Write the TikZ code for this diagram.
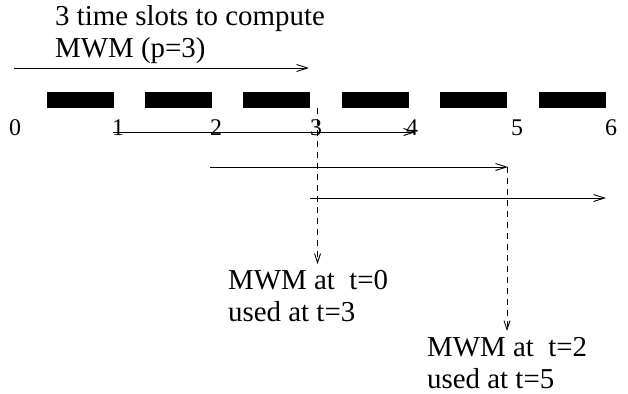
\documentclass[tikz,border=0pt]{standalone}
\usepackage{fontspec}
\setmainfont{Liberation Serif}
\usetikzlibrary{arrows.meta}
\begin{document}
\begin{tikzpicture}[x=1bp,y=-1bp,
  lbl/.style={inner sep=0pt,anchor=base west,font=\fontsize{29}{32}\selectfont,align=left},
  tick/.style={inner sep=0pt,anchor=base,font=\fontsize{24}{28}\selectfont},
  slot/.style={fill=black,draw=none,minimum width=67bp,minimum height=16bp,inner sep=0pt},
  span/.style={line width=0.9bp,-{Straight Barb[length=11bp,width=7bp,line width=0.9bp]}},
  dropline/.style={line width=0.9bp,dash pattern=on 6bp off 5bp,-{Straight Barb[length=9bp,width=6bp,line width=0.9bp]}}]
\useasboundingbox (0,0) rectangle (628,393);

% caption over the first computation window (anchored at its last line)
\node[lbl] (cap) at (55,57) {3 time slots to compute\\MWM (p=3)};

% time slots
\foreach \i/\x in {1/80,2/178.5,3/276.5,4/375.5,5/473.5,6/572}
  \node[slot] (b\i) at (\x,100) {};

% tick labels
\foreach \i/\x in {0/15,1/118,2/216,3/316,4/412,5/517,6/611}
  \node[tick] (t\i) at (\x,135) {\i};

% end points of the computation windows
\coordinate (w0s) at (14,68);   \coordinate (w0e) at (309,68);
\coordinate (w1s) at (113,132); \coordinate (w1e) at (416,132);
\coordinate (w2s) at (210,167); \coordinate (w2e) at (508,167);
\coordinate (w3s) at (310,198); \coordinate (w3e) at (606,198);

\draw[span] (w0s) -- (w0e);
\draw[span] (w1s) -- (w1e);
\draw[span] (w2s) -- (w2e);
\draw[span] (w3s) -- (w3e);

% results and when they are used
\node[lbl] (r0) at (228,321) {MWM at\ \ t=0\\used at t=3};
\node[lbl] (r2) at (427,388) {MWM at\ \ t=2\\used at t=5};

\coordinate (d0s) at (317.5,108); \coordinate (d0e) at (317.5,264);
\coordinate (d2s) at (507,167);   \coordinate (d2e) at (507,331);
\draw[dropline] (d0s) -- (d0e);
\draw[dropline] (d2s) -- (d2e);
\end{tikzpicture}
\end{document}
